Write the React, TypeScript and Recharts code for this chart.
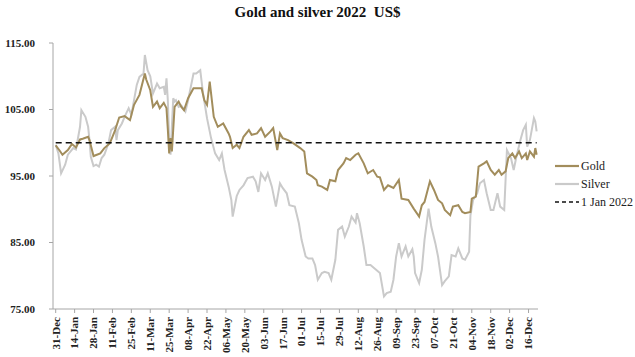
import React from "react"
import { LineChart, Line, XAxis, YAxis } from "recharts"

// Index, 1 Jan 2022 = 100. x is days since 31-Dec-2021.
const GOLD_DAYS = [
  0, 3, 5, 9, 12, 15, 18, 20, 24, 25, 28, 33, 36, 40, 42, 44, 47, 51, 55, 58,
  62, 66, 67, 70, 72, 75, 77, 80, 82, 83, 84, 85, 86, 88, 91, 93, 95, 98, 102,
  108, 110, 112, 114, 117, 120, 124, 128, 129, 131, 134, 136, 139, 143, 145,
  149, 152, 155, 159, 161, 164, 166, 168, 172, 176, 181, 184, 186, 190, 193,
  194, 197, 201, 203, 207, 209, 213, 215, 218, 222, 224, 228, 231, 235, 238,
  240, 243, 246, 250, 254, 256, 261, 265, 269, 271, 273, 277, 280, 283, 286,
  288, 292, 294, 298, 301, 303, 307, 308, 311, 313, 317, 319, 322, 325, 328,
  330, 333, 335, 338, 340, 343, 345, 348, 349, 351, 354, 355, 356,
]
const GOLD_VALUES = [
  99.6, 98.8, 98.2, 98.9, 99.8, 99.3, 100.5, 100.6, 100.9, 100.4, 98.0, 98.4,
  99.2, 99.9, 100.9, 101.9, 103.8, 104.0, 103.4, 105.7, 107.2, 110.4, 109.5,
  107.9, 105.4, 106.2, 105.2, 106.0, 105.2, 102.0, 98.4, 100.7, 98.7, 105.4,
  106.2, 105.4, 104.9, 106.7, 108.2, 108.2, 106.4, 105.7, 109.2, 103.9, 102.4,
  102.9, 101.4, 100.9, 99.2, 99.7, 99.2, 100.9, 101.9, 101.2, 101.4, 102.2,
  100.9, 101.7, 102.2, 98.9, 101.4, 100.7, 100.4, 99.9, 99.2, 98.7, 95.4, 94.9,
  94.4, 93.6, 93.4, 92.9, 94.4, 94.2, 95.9, 96.9, 97.7, 97.4, 98.2, 98.4, 96.9,
  95.4, 95.9, 94.9, 94.8, 92.9, 93.6, 93.2, 94.4, 91.6, 91.4, 90.1, 88.9, 90.6,
  91.1, 94.2, 92.9, 91.4, 90.9, 89.9, 89.1, 90.4, 90.6, 89.6, 89.4, 89.6, 91.6,
  91.9, 96.4, 96.9, 97.2, 95.9, 95.2, 95.9, 95.2, 95.7, 97.7, 98.4, 97.7, 98.7,
  97.7, 98.4, 97.4, 98.7, 97.9, 99.2, 98.2,
]

const SILVER_DAYS = [
  0, 2, 4, 7, 9, 13, 15, 18, 19, 22, 24, 25, 26, 28, 30, 32, 34, 36, 39, 41,
  44, 45, 46, 49, 51, 54, 56, 60, 62, 65, 66, 68, 70, 72, 75, 77, 80, 81, 82,
  83, 84, 85, 87, 88, 89, 91, 93, 96, 98, 102, 104, 107, 109, 112, 115, 118,
  121, 123, 125, 128, 130, 131, 134, 136, 139, 142, 146, 148, 150, 152, 155,
  157, 160, 163, 166, 168, 171, 173, 177, 180, 182, 185, 187, 190, 192, 194,
  197, 199, 202, 204, 207, 209, 212, 214, 217, 219, 222, 223, 225, 228, 230,
  233, 240, 243, 245, 248, 250, 252, 254, 256, 259, 261, 264, 265, 266, 269,
  271, 273, 276, 278, 281, 283, 286, 288, 291, 293, 296, 298, 301, 303, 306,
  307, 309, 312, 314, 317, 319, 322, 324, 327, 329, 332, 334, 337, 339, 341,
  344, 346, 348, 349, 351, 354, 355, 356,
]
const SILVER_VALUES = [
  99.7, 98.4, 95.4, 96.7, 98.2, 99.2, 99.0, 102.4, 104.9, 103.9, 102.4, 100.4,
  97.9, 96.5, 96.7, 96.4, 97.7, 98.2, 99.9, 101.9, 102.4, 100.4, 101.9, 102.9,
  103.9, 105.2, 104.2, 108.7, 109.9, 110.4, 113.2, 110.9, 110.0, 107.4, 108.9,
  108.2, 108.4, 107.2, 109.7, 106.4, 100.4, 98.2, 106.7, 106.2, 106.4, 105.4,
  105.6, 104.7, 106.4, 110.4, 110.4, 110.9, 107.5, 103.7, 100.7, 98.4, 97.4,
  98.4, 95.9, 93.4, 91.4, 88.9, 92.0, 92.9, 93.6, 94.7, 94.9, 94.2, 92.6, 95.4,
  94.4, 95.4, 93.4, 90.4, 93.9, 93.2, 92.4, 90.6, 90.4, 87.9, 85.4, 82.9, 82.6,
  82.6, 81.6, 79.4, 80.4, 80.6, 80.4, 79.4, 82.4, 86.9, 87.4, 85.9, 87.4, 88.9,
  88.0, 89.4, 87.9, 84.4, 81.6, 81.6, 80.4, 76.9, 77.4, 77.6, 79.4, 82.9, 84.9,
  82.9, 84.4, 82.9, 84.0, 82.9, 80.4, 78.9, 80.9, 85.4, 90.1, 87.4, 84.9, 82.9,
  78.6, 79.2, 79.9, 83.1, 82.9, 84.1, 82.6, 82.4, 83.6, 89.1, 91.4, 92.4, 93.9,
  94.4, 92.4, 89.9, 89.9, 92.4, 90.4, 89.9, 98.9, 97.7, 95.9, 97.9, 100.4,
  101.9, 102.7, 99.4, 100.4, 103.7, 103.2, 101.7,
]

const REF_DAYS = [0, 356]
const REF_VALUE = 100

const X_TICK_LABELS = [
  "31-Dec", "14-Jan", "28-Jan", "11-Feb", "25-Feb", "11-Mar", "25-Mar",
  "08-Apr", "22-Apr", "06-May", "20-May", "03-Jun", "17-Jun", "01-Jul",
  "15-Jul", "29-Jul", "12-Aug", "26-Aug", "09-Sep", "23-Sep", "07-Oct",
  "21-Oct", "04-Nov", "18-Nov", "02-Dec", "16-Dec",
]
const Y_TICKS = [75, 85, 95, 105, 115]

const GOLD = "#A28D5C"
const SILVER = "#CACACA"
const AXIS = "#A6A6A6"
const SERIF = "'Liberation Serif', 'DejaVu Serif', serif"

const goldData = GOLD_DAYS.map((d, i) => ({ day: d, value: GOLD_VALUES[i] }))
const silverData = SILVER_DAYS.map((d, i) => ({ day: d, value: SILVER_VALUES[i] }))
const refData = REF_DAYS.map((d) => ({ day: d, value: REF_VALUE }))
const xTicks = X_TICK_LABELS.map((_, i) => i * 14)

const XTick = (props: any) => {
  const { x, y, payload } = props
  const label = X_TICK_LABELS[Math.round(payload.value / 14)]
  return (
    <text
      x={x}
      y={y + 2}
      dy="0.35em"
      transform={`rotate(-90 ${x} ${y + 2})`}
      textAnchor="end"
      fill="#222"
      fontSize={11}
      fontWeight={700}
      fontFamily={SERIF}
    >
      {label}
    </text>
  )
}

const LEGEND_ITEMS = [
  { name: "Gold", color: GOLD, dash: undefined as string | undefined },
  { name: "Silver", color: SILVER, dash: undefined },
  { name: "1 Jan 2022", color: "#111", dash: "4 3" },
]

function LegendBox() {
  return (
    <div
      style={{
        position: "absolute",
        left: 555,
        top: 157,
        fontFamily: SERIF,
        fontSize: 12,
        color: "#222",
      }}
    >
      {LEGEND_ITEMS.map((it) => (
        <div
          key={it.name}
          style={{ display: "flex", alignItems: "center", height: 18 }}
        >
          <svg width={24} height={6} style={{ marginRight: 2 }}>
            <line
              x1={0}
              y1={3}
              x2={24}
              y2={3}
              stroke={it.color}
              strokeWidth={it.dash ? 1.6 : 2.2}
              strokeDasharray={it.dash}
            />
          </svg>
          <span>{it.name}</span>
        </div>
      ))}
    </div>
  )
}

export default function App() {
  return (
    <div
      style={{
        position: "absolute",
        left: 0,
        top: 0,
        width: 635,
        height: 357,
        background: "#fff",
        overflow: "hidden",
      }}
    >
      <div
        style={{
          position: "absolute",
          top: 4,
          left: 0,
          width: 635,
          textAlign: "center",
          fontFamily: SERIF,
          fontWeight: 700,
          fontSize: 15,
          color: "#111",
          whiteSpace: "pre",
        }}
      >
        {"Gold and silver 2022  US$"}
      </div>
      <LineChart
        width={635}
        height={357}
        margin={{ top: 43, right: 97, left: 0, bottom: 0 }}
      >
        <XAxis
          type="number"
          dataKey="day"
          domain={[-2, 357]}
          ticks={xTicks}
          interval={0}
          tick={<XTick />}
          tickLine={{ stroke: AXIS }}
          tickSize={4}
          height={48}
          axisLine={{ stroke: AXIS }}
          allowDataOverflow
        />
        <YAxis
          type="number"
          domain={[75, 115]}
          ticks={Y_TICKS}
          interval={0}
          width={53}
          tickSize={4}
          tickMargin={14}
          tickLine={{ stroke: AXIS }}
          axisLine={{ stroke: AXIS }}
          tickFormatter={(v: number) => v.toFixed(2)}
          tick={{ fill: "#222", fontSize: 11, fontWeight: 700, fontFamily: SERIF }}
        />
        <Line
          data={silverData}
          dataKey="value"
          name="Silver"
          stroke={SILVER}
          strokeWidth={2}
          dot={false}
          isAnimationActive={false}
        />
        <Line
          data={goldData}
          dataKey="value"
          name="Gold"
          stroke={GOLD}
          strokeWidth={2}
          dot={false}
          isAnimationActive={false}
        />
        <Line
          data={refData}
          dataKey="value"
          name="1 Jan 2022"
          stroke="#111"
          strokeWidth={1.6}
          strokeDasharray="6 4"
          dot={false}
          isAnimationActive={false}
        />
      </LineChart>
      <LegendBox />
    </div>
  )
}
